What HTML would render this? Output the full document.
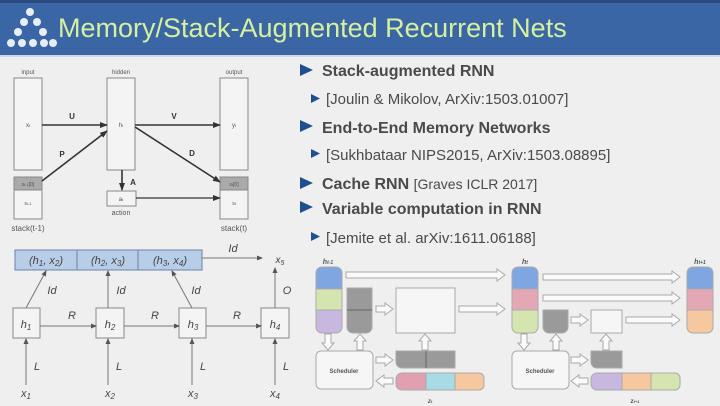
<!DOCTYPE html>
<html><head><meta charset="utf-8"><style>
html,body{margin:0;padding:0;width:720px;height:406px;overflow:hidden;background:#efefef}
svg{display:block}
text{font-family:"Liberation Sans",sans-serif}
</style></head><body>
<svg width="720" height="406" viewBox="0 0 720 406" xmlns="http://www.w3.org/2000/svg">
<defs>
<marker id="a" markerWidth="8" markerHeight="8" refX="7" refY="4" orient="auto" markerUnits="userSpaceOnUse"><path d="M0,1 L8,4 L0,7 Z" fill="#333"/></marker>
<marker id="b" markerWidth="6" markerHeight="6" refX="5" refY="3" orient="auto" markerUnits="userSpaceOnUse"><path d="M0,0.5 L6,3 L0,5.5 Z" fill="#555"/></marker>
</defs>
<rect x="0" y="0" width="720" height="406" fill="#efefef"/>
<rect x="0" y="0" width="720" height="55" fill="#3b66a5"/>
<rect x="0" y="0" width="720" height="3" fill="#2a4a80"/>
<rect x="0" y="55" width="720" height="2" fill="#d0d8e4"/>
<!-- logo -->
<g fill="#e8eef8">
<circle cx="30" cy="12" r="4"/><circle cx="24" cy="22" r="4"/><circle cx="37" cy="22" r="4"/>
<circle cx="18" cy="32" r="4"/><circle cx="43" cy="32" r="4"/>
<circle cx="11" cy="43" r="4"/><circle cx="22" cy="43" r="4"/><circle cx="33" cy="43" r="4"/><circle cx="44" cy="43" r="4"/><circle cx="53" cy="43" r="4"/>
</g>
<text x="58" y="37" font-size="27" fill="#d6f0a0">Memory/Stack-Augmented Recurrent Nets</text>

<!-- top-left diagram -->
<g fill="#f4f4f4" stroke="#888" stroke-width="1">
<rect x="14" y="78" width="28" height="92"/>
<rect x="107" y="78" width="28" height="92"/>
<rect x="220" y="78" width="28" height="92"/>
<rect x="14" y="177" width="28" height="42"/>
<rect x="220" y="177" width="28" height="42"/>
<rect x="107" y="191" width="29" height="15"/>
</g>
<rect x="14" y="177" width="28" height="13" fill="#aaa" stroke="#888"/>
<rect x="220" y="177" width="28" height="13" fill="#aaa" stroke="#888"/>
<g font-size="6" fill="#555" text-anchor="middle">
<text x="28" y="74">input</text><text x="121" y="74">hidden</text><text x="234" y="74">output</text>
<text x="28" y="127">x<tspan font-size="4">t</tspan></text><text x="121" y="127">h<tspan font-size="4">t</tspan></text><text x="234" y="127">y<tspan font-size="4">t</tspan></text>
<text x="28" y="186" font-size="5">s<tspan font-size="4">t-1</tspan>[0]</text><text x="234" y="186" font-size="5">s<tspan font-size="4">t</tspan>[0]</text>
<text x="28" y="205" font-size="5">s<tspan font-size="4">t-1</tspan></text><text x="234" y="205" font-size="5">s<tspan font-size="4">t</tspan></text>
<text x="121" y="201">a<tspan font-size="4">t</tspan></text>
<text x="121" y="215" font-size="7">action</text>
<text x="28" y="231" font-size="8">stack(t-1)</text><text x="234" y="231" font-size="8">stack(t)</text>
</g>
<g stroke="#333" stroke-width="1.6" fill="none" marker-end="url(#a)">
<line x1="42" y1="125" x2="107" y2="125"/>
<line x1="135" y1="125" x2="220" y2="125"/>
<line x1="42" y1="181" x2="107" y2="131"/>
<line x1="135" y1="127" x2="220" y2="182"/>
<line x1="122" y1="170" x2="122" y2="190"/>
<line x1="136" y1="198" x2="220" y2="198" stroke-width="1.2"/>
</g>
<g font-size="8" font-weight="bold" fill="#333" text-anchor="middle">
<text x="72" y="119">U</text><text x="174" y="119">V</text><text x="62" y="157">P</text><text x="192" y="156">D</text><text x="133" y="185">A</text>
</g>

<!-- bottom-left diagram -->
<rect x="15" y="250" width="187" height="20" fill="#b8cde8" stroke="#6a85aa"/>
<line x1="77" y1="250" x2="77" y2="270" stroke="#6a85aa"/>
<line x1="138" y1="250" x2="138" y2="270" stroke="#6a85aa"/>
<g font-size="11" fill="#444" font-style="italic" text-anchor="middle">
<text x="46" y="264">(h<tspan font-size="8" dy="2">1</tspan><tspan dy="-2">, x</tspan><tspan font-size="8" dy="2">2</tspan><tspan dy="-2">)</tspan></text>
<text x="108" y="264">(h<tspan font-size="8" dy="2">2</tspan><tspan dy="-2">, x</tspan><tspan font-size="8" dy="2">3</tspan><tspan dy="-2">)</tspan></text>
<text x="170" y="264">(h<tspan font-size="8" dy="2">3</tspan><tspan dy="-2">, x</tspan><tspan font-size="8" dy="2">4</tspan><tspan dy="-2">)</tspan></text>
</g>
<g fill="#f4f4f4" stroke="#888">
<rect x="13" y="308" width="27" height="30"/><rect x="96" y="308" width="28" height="30"/>
<rect x="179" y="308" width="27" height="30"/><rect x="261" y="308" width="28" height="30"/>
</g>
<g stroke="#777" stroke-width="1" fill="none" marker-end="url(#b)">
<line x1="202" y1="258" x2="262" y2="258"/>
<line x1="26" y1="308" x2="46" y2="271"/>
<line x1="108" y1="308" x2="108" y2="271"/>
<line x1="192" y1="308" x2="172" y2="271"/>
<line x1="275" y1="308" x2="275" y2="268"/>
<line x1="40" y1="326" x2="96" y2="326"/><line x1="124" y1="326" x2="179" y2="326"/><line x1="206" y1="326" x2="261" y2="326"/>
<line x1="26" y1="385" x2="26" y2="339"/><line x1="108" y1="385" x2="108" y2="339"/><line x1="192" y1="385" x2="192" y2="339"/><line x1="275" y1="385" x2="275" y2="339"/>
</g>
<g font-size="11" fill="#444" font-style="italic" text-anchor="middle">
<text x="233" y="252">Id</text><text x="280" y="263" font-size="10">x<tspan font-size="7" dy="2">5</tspan></text>
<text x="52" y="294">Id</text><text x="121" y="294">Id</text><text x="196" y="294">Id</text><text x="287" y="294">O</text>
<text x="72" y="319">R</text><text x="155" y="319">R</text><text x="237" y="319">R</text>
<text x="26" y="328">h<tspan font-size="8" dy="2">1</tspan></text><text x="110" y="328">h<tspan font-size="8" dy="2">2</tspan></text>
<text x="193" y="328">h<tspan font-size="8" dy="2">3</tspan></text><text x="275" y="328">h<tspan font-size="8" dy="2">4</tspan></text>
<text x="37" y="370">L</text><text x="119" y="370">L</text><text x="203" y="370">L</text><text x="286" y="370">L</text>
<text x="26" y="397">x<tspan font-size="8" dy="2">1</tspan></text><text x="110" y="397">x<tspan font-size="8" dy="2">2</tspan></text>
<text x="193" y="397">x<tspan font-size="8" dy="2">3</tspan></text><text x="275" y="397">x<tspan font-size="8" dy="2">4</tspan></text>
</g>

<!-- bullets -->
<g fill="#1f4f8f">
<path d="M300,64 L313,70 L300,76Z"/><path d="M311,94 L320,98.5 L311,103Z"/>
<path d="M300,120 L313,126 L300,132Z"/><path d="M311,149 L320,153.5 L311,158Z"/>
<path d="M300,177 L313,183 L300,189Z"/><path d="M300,201 L313,207 L300,213Z"/>
<path d="M311,232 L320,236.5 L311,241Z"/>
</g>
<g fill="#4a4a4a">
<text x="322" y="76" font-size="16" font-weight="bold">Stack-augmented RNN</text>
<text x="326" y="104" font-size="15">[Joulin &amp; Mikolov, ArXiv:1503.01007]</text>
<text x="322" y="133" font-size="16" font-weight="bold">End-to-End Memory Networks</text>
<text x="326" y="160" font-size="15">[Sukhbataar NIPS2015, ArXiv:1503.08895]</text>
<text x="322" y="189" font-size="16" font-weight="bold">Cache RNN <tspan font-weight="normal" font-size="14">[Graves ICLR 2017]</tspan></text>
<text x="322" y="214" font-size="16" font-weight="bold">Variable computation in RNN</text>
<text x="326" y="243" font-size="15">[Jemite et al. arXiv:1611.06188]</text>
</g>

<!-- right-bottom diagram -->
<g stroke="#aaa" stroke-width="1">
<path d="M316,273 a6,6 0 0 1 6,-6 h14 a6,6 0 0 1 6,6 v16 h-26z" fill="#7fa6e0"/>
<rect x="316" y="289" width="26" height="21" fill="#d5e5b0"/>
<path d="M316,310 h26 v17 a6,6 0 0 1 -6,6 h-14 a6,6 0 0 1 -6,-6z" fill="#c8b7de"/>
<path d="M347,288 h25 v39 a6,6 0 0 1 -6,6 h-13 a6,6 0 0 1 -6,-6z" fill="#9a9a9a"/>
<line x1="347" y1="310" x2="372" y2="310" stroke="#666"/>
<rect x="396" y="288" width="59" height="45" fill="#f6f6f6"/>
<rect x="316" y="351" width="57" height="38" rx="5" fill="#f6f6f6"/>
<path d="M396,351 h59 v17 h-53 a6,6 0 0 1 -6,-6z" fill="#9a9a9a"/>
<line x1="426" y1="351" x2="426" y2="368" stroke="#666"/>
<path d="M402,373 h24 v17 h-24 a6,6 0 0 1 -6,-6 v-5 a6,6 0 0 1 6,-6z" fill="#e0a0b0"/>
<rect x="426" y="373" width="29" height="17" fill="#a8dbe4"/>
<path d="M455,373 h24 a5,5 0 0 1 5,5 v7 a5,5 0 0 1 -5,5 h-24z" fill="#f7c8a0"/>

<path d="M512,273 a6,6 0 0 1 6,-6 h14 a6,6 0 0 1 6,6 v16 h-26z" fill="#7fa6e0"/>
<rect x="512" y="289" width="26" height="21" fill="#e4a8b4"/>
<path d="M512,310 h26 v17 a6,6 0 0 1 -6,6 h-14 a6,6 0 0 1 -6,-6z" fill="#d5e5b0"/>
<path d="M543,310 h25 v17 a6,6 0 0 1 -6,6 h-13 a6,6 0 0 1 -6,-6z" fill="#9a9a9a"/>
<rect x="591" y="310" width="31" height="23" fill="#f6f6f6"/>
<path d="M687,273 a6,6 0 0 1 6,-6 h14 a6,6 0 0 1 6,6 v16 h-26z" fill="#7fa6e0"/>
<rect x="687" y="289" width="26" height="21" fill="#e4a8b4"/>
<path d="M687,310 h26 v17 a6,6 0 0 1 -6,6 h-14 a6,6 0 0 1 -6,-6z" fill="#f7c8a0"/>
<rect x="512" y="351" width="57" height="38" rx="5" fill="#f6f6f6"/>
<path d="M591,351 h31 v17 h-25 a6,6 0 0 1 -6,-6z" fill="#9a9a9a"/>
<path d="M597,373 h25 v17 h-25 a6,6 0 0 1 -6,-6 v-5 a6,6 0 0 1 6,-6z" fill="#c8b7de"/>
<rect x="622" y="373" width="29" height="17" fill="#f7c8a0"/>
<path d="M651,373 h24 a5,5 0 0 1 5,5 v7 a5,5 0 0 1 -5,5 h-24z" fill="#d5e5b0"/>
</g>
<g fill="#fafafa" stroke="#aaa" stroke-width="1">
<path d="M346,272 H497 V269 L505,275 L497,281 V278 H346Z"/>
<path d="M543,274 H672 V271 L680,277 L672,283 V280 H543Z"/>
<path d="M543,295 H672 V292 L680,298 L672,304 V301 H543Z"/>
<path d="M459,306 H497 V303 L505,309 L497,315 V312 H459Z"/>
<path d="M626,317 H672 V314 L680,320 L672,326 V323 H626Z"/>
<path d="M376,306 H385 V303 L393,309 L385,315 V312 H376Z"/>
<path d="M571,317 H580 V314 L588,320 L580,326 V323 H571Z"/>
<path d="M376,357 H385 V354 L393,360 L385,366 V363 H376Z"/>
<path d="M571,357 H580 V354 L588,360 L580,366 V363 H571Z"/>
<path d="M393,378 H384 V375 L376,381 L384,387 V384 H393Z"/>
<path d="M588,378 H579 V375 L571,381 L579,387 V384 H588Z"/>
<path d="M325,334 V343 H322 L328,350 L334,343 H331 V334Z"/>
<path d="M521,334 V343 H518 L524,350 L530,343 H527 V334Z"/>
<path d="M357,350 V341 H354 L360,334 L366,341 H363 V350Z"/>
<path d="M553,350 V341 H550 L556,334 L562,341 H559 V350Z"/>
<path d="M422,350 V341 H419 L425,334 L431,341 H428 V350Z"/>
<path d="M603,350 V341 H600 L606,334 L612,341 H609 V350Z"/>
</g>
<g font-family="Liberation Serif" fill="#555" text-anchor="middle" font-weight="bold">
<text x="328" y="264" font-size="7" font-style="italic">h<tspan font-size="5">t-1</tspan></text>
<text x="525" y="264" font-size="7" font-style="italic">h<tspan font-size="5">t</tspan></text>
<text x="700" y="264" font-size="7" font-style="italic">h<tspan font-size="5">t+1</tspan></text>
<text x="344" y="373" font-size="6" font-family="Liberation Serif">Scheduler</text>
<text x="540" y="373" font-size="6" font-family="Liberation Serif">Scheduler</text>
<text x="430" y="403" font-size="6" font-style="italic">z<tspan font-size="4">t</tspan></text>
<text x="635" y="403" font-size="6" font-style="italic">z<tspan font-size="4">t+1</tspan></text>
</g>
</svg>
</body></html>
